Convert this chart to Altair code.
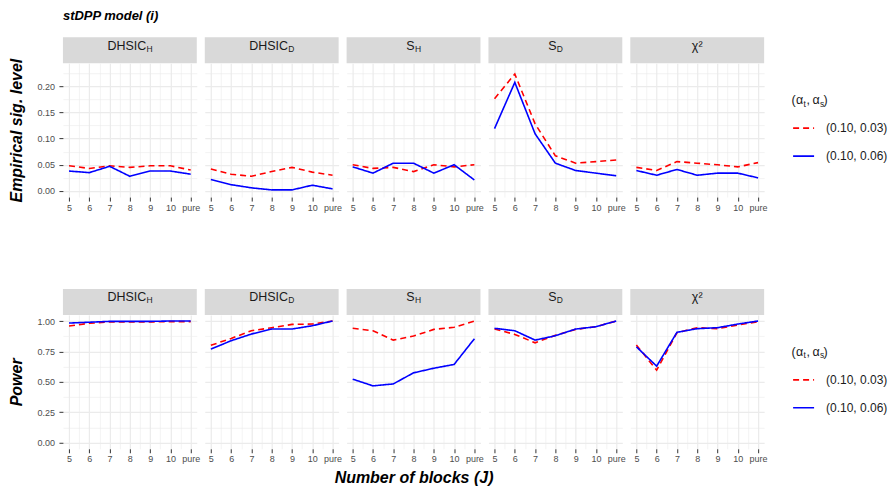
import altair as alt
import pandas as pd

# ---------------- data ----------------
blocks_x = [5, 6, 7, 8, 9, 10, 11]
block_labels = ["5", "6", "7", "8", "9", "10", "pure"]
methods = ["DHSIC_H", "DHSIC_D", "S_H", "S_D", "chi2"]
strip_main = ["DHSIC", "DHSIC", "S", "S", "χ²"]
strip_sub = ["H", "D", "H", "D", ""]
series = ["(0.10, 0.03)", "(0.10, 0.06)"]

sig_003 = {
    "DHSIC_H": [0.048, 0.043, 0.048, 0.045, 0.048, 0.048, 0.040],
    "DHSIC_D": [0.042, 0.032, 0.028, 0.037, 0.045, 0.036, 0.030],
    "S_H": [0.050, 0.043, 0.045, 0.037, 0.050, 0.046, 0.050],
    "S_D": [0.176, 0.223, 0.128, 0.067, 0.053, 0.056, 0.059],
    "chi2": [0.045, 0.039, 0.056, 0.053, 0.050, 0.046, 0.054],
}
sig_006 = {
    "DHSIC_H": [0.038, 0.035, 0.047, 0.028, 0.038, 0.038, 0.032],
    "DHSIC_D": [0.022, 0.012, 0.006, 0.002, 0.002, 0.011, 0.004],
    "S_H": [0.046, 0.034, 0.053, 0.053, 0.034, 0.050, 0.021],
    "S_D": [0.119, 0.207, 0.109, 0.053, 0.039, 0.034, 0.029],
    "chi2": [0.039, 0.030, 0.041, 0.030, 0.034, 0.034, 0.025],
}
pow_003 = {
    "DHSIC_H": [0.959, 0.981, 0.992, 0.992, 0.992, 0.995, 0.995],
    "DHSIC_D": [0.800, 0.857, 0.920, 0.945, 0.972, 0.975, 1.000],
    "S_H": [0.940, 0.920, 0.843, 0.876, 0.931, 0.948, 1.000],
    "S_D": [0.934, 0.890, 0.821, 0.882, 0.931, 0.953, 1.000],
    "chi2": [0.802, 0.596, 0.904, 0.945, 0.937, 0.967, 0.995],
}
pow_006 = {
    "DHSIC_H": [0.983, 0.990, 0.997, 0.997, 0.997, 1.000, 1.000],
    "DHSIC_D": [0.769, 0.838, 0.893, 0.934, 0.934, 0.961, 1.000],
    "S_H": [0.522, 0.467, 0.483, 0.574, 0.612, 0.643, 0.854],
    "S_D": [0.940, 0.920, 0.843, 0.879, 0.934, 0.953, 1.000],
    "chi2": [0.788, 0.629, 0.907, 0.937, 0.945, 0.975, 1.000],
}

sig_ticks = [0.0, 0.05, 0.10, 0.15, 0.20]
sig_minor = [0.025, 0.075, 0.125, 0.175, 0.225]
pow_ticks = [0.0, 0.25, 0.50, 0.75, 1.00]
pow_minor = [0.125, 0.375, 0.625, 0.875]
x_minor = [5.5, 6.5, 7.5, 8.5, 9.5, 10.5]

# ---------------- styling ----------------
FONT = "Liberation Sans"
W, H, STRIP = 134, 134, 26
RED, BLUE = "#FF0000", "#0000FF"
GRID = "#EBEBEB"

CW = {"D": .722, "H": .722, "S": .667, "I": .278, "C": .722}


def tw(s, size):
    return sum(CW.get(c, .6) for c in s) * size


color_enc = alt.Color("series:N", scale=alt.Scale(domain=series, range=[RED, BLUE]), legend=None)
dash_enc = alt.StrokeDash("series:N", scale=alt.Scale(domain=series, range=[[6, 4], [1, 0]]), legend=None)


def cond(test, a, b):
    return {"condition": {"test": test, "value": a}, "value": b}


def make_df(d1, d2, m):
    rows = []
    for s, d in ((series[0], d1), (series[1], d2)):
        for xv, v in zip(blocks_x, d[m]):
            rows.append({"x": xv, "value": v, "series": s})
    return pd.DataFrame(rows)


xlab_arr = "[" + ",".join("'" + l + "'" for l in block_labels) + "]"
x_test = "datum.value % 1 === 0"


def x_axis(title):
    kw = dict(
        values=sorted(blocks_x + x_minor),
        labelExpr=f"{x_test} ? {xlab_arr}[datum.value - 5] : ''",
        grid=True, gridColor=GRID, gridWidth=cond(x_test, 1.2, 0.6),
        tickColor="#333333", tickOpacity=cond(x_test, 1, 0), tickSize=4, tickWidth=1,
        labelColor="#4D4D4D", labelFontSize=9, labelPadding=2, labelFont=FONT,
        labelOverlap=False, labelFlush=False, labelBound=False, domain=False,
    )
    if title:
        kw.update(title=title, titleFontSize=16, titleFontWeight="bold", titleFontStyle="italic",
                  titleColor="black", titlePadding=6, titleFont=FONT)
    else:
        kw["title"] = None
    return alt.Axis(**kw)


def y_axis(ticks, minor, step, title, show):
    test = f"abs(datum.value / {step} - round(datum.value / {step})) < 0.001"
    kw = dict(
        values=sorted(ticks + minor), grid=True, gridColor=GRID, gridWidth=cond(test, 1.2, 0.6),
        domain=False,
    )
    if show:
        kw.update(
            labelExpr=f"{test} ? format(datum.value, '.2f') : ''",
            tickColor="#333333", tickOpacity=cond(test, 1, 0), tickSize=4, tickWidth=1,
            labelColor="#4D4D4D", labelFontSize=9, labelPadding=4.5, labelFont=FONT,
            labelOverlap=False, labelFlush=False,
            title=title, titleFontSize=16, titleFontWeight="bold", titleFontStyle="italic",
            titleColor="black", titlePadding=12, titleFont=FONT,
        )
    else:
        kw.update(labels=False, ticks=False, title=None)
    return alt.Axis(**kw)


def panel(i, d1, d2, ydom, ticks, minor, step, ytitle, xtitle):
    m = methods[i]
    df = make_df(d1, d2, m)
    lines = alt.Chart(df).mark_line(strokeWidth=1.6).encode(
        x=alt.X("x:Q", scale=alt.Scale(domain=[4.7, 11.3], nice=False, zero=False), axis=x_axis(xtitle)),
        y=alt.Y("value:Q", scale=alt.Scale(domain=ydom, nice=False, zero=False),
                axis=y_axis(ticks, minor, step, ytitle, i == 0)),
        color=color_enc, strokeDash=dash_enc, detail="series:N",
    )
    one = pd.DataFrame({"main": [strip_main[i]], "sub": [strip_sub[i]]})
    rect = alt.Chart(one).mark_rect(color="#D9D9D9").encode(
        x=alt.value(0), x2=alt.value(W), y=alt.value(-STRIP), y2=alt.value(0))
    layers = [rect]
    if strip_sub[i]:
        w1, w2 = tw(strip_main[i], 12.5), tw(strip_sub[i], 8.5)
        xm = W / 2 + (w1 - w2) / 2
        layers.append(alt.Chart(one).mark_text(align="right", baseline="alphabetic", fontSize=12.5,
                                               font=FONT, color="#1A1A1A").encode(
            x=alt.value(xm), y=alt.value(-13.5), text="main:N"))
        layers.append(alt.Chart(one).mark_text(align="left", baseline="alphabetic", fontSize=8.5,
                                               font=FONT, color="#1A1A1A").encode(
            x=alt.value(xm + 0.3), y=alt.value(-11.5), text="sub:N"))
    else:
        layers.append(alt.Chart(one).mark_text(align="center", baseline="alphabetic", fontSize=12.5,
                                               font=FONT, color="#1A1A1A").encode(
            x=alt.value(W / 2), y=alt.value(-13.5), text="main:N"))
    layers.append(lines)
    return alt.layer(*layers).properties(width=W, height=H)


def legend_chart():
    leg = pd.DataFrame({"series": series})
    ysc = alt.Scale(type="point", domain=series, range=[65, 93], padding=0)
    rules = alt.Chart(leg).mark_rule(strokeWidth=1.6).encode(
        x=alt.value(21), x2=alt.value(42), y=alt.Y("series:N", scale=ysc, axis=None),
        color=color_enc, strokeDash=dash_enc)
    labs = alt.Chart(leg).mark_text(align="left", baseline="middle", fontSize=12, font=FONT,
                                    color="#1A1A1A").encode(
        x=alt.value(54), y=alt.Y("series:N", scale=ysc, axis=None), text="series:N")
    one = pd.DataFrame({"a": [0]})
    pieces = [("(", 19.5, 12.5, 41), ("α", 24.0, 12.5, 41), ("t", 31.5, 8.5, 43.5),
              (",", 34.5, 12.5, 41), ("α", 40.3, 12.5, 41), ("s", 47.8, 8.5, 43.5),
              (")", 51.5, 12.5, 41)]
    tl = [alt.Chart(one).mark_text(align="left", baseline="alphabetic", fontSize=fs, font=FONT,
                                   color="#1A1A1A", text=t).encode(x=alt.value(px), y=alt.value(py))
          for t, px, fs, py in pieces]
    return alt.layer(rules, labs, *tl).properties(width=112, height=H)


row1 = alt.hconcat(
    *[panel(i, sig_003, sig_006, [-0.0116, 0.2436], sig_ticks, sig_minor, 0.05,
            "Empirical sig. level", None) for i in range(5)],
    legend_chart(), spacing=8, bounds="flush",
).resolve_scale(x="independent", y="independent")

row2 = alt.hconcat(
    *[panel(i, pow_003, pow_006, [-0.05, 1.05], pow_ticks, pow_minor, 0.25,
            "Power", "Number of blocks (J)" if i == 2 else None) for i in range(5)],
    legend_chart(), spacing=8, bounds="flush",
).resolve_scale(x="independent", y="independent")

chart = alt.vconcat(row1, row2, spacing=77).resolve_scale(
    x="independent", y="independent"
).properties(
    title=alt.TitleParams("stDPP model (i)", anchor="start", frame="group", fontSize=13,
                          fontWeight="bold", fontStyle="italic", color="black", font=FONT, offset=14),
    padding={"left": 0, "top": 2, "right": 0, "bottom": 0},
).configure(
    font=FONT, background="white", view=alt.ViewConfig(stroke="transparent", strokeWidth=0)
)

chart.save("out.html", embed_options={"renderer": "svg", "actions": False})
